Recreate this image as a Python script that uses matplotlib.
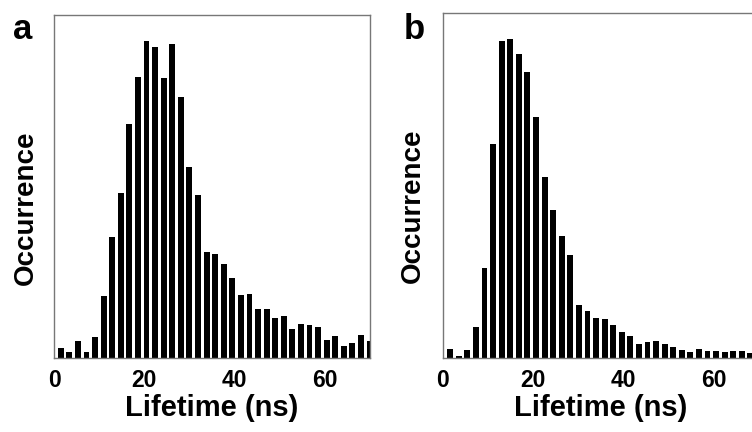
import numpy as np
import matplotlib.pyplot as plt

plt.rcParams['font.family'] = ['Liberation Sans', 'DejaVu Sans']
plt.rcParams['font.weight'] = 'bold'

# lifetime histograms, occurrence in arbitrary units (axis top = 100)
occ_a = [2.9, 1.7, 5.0, 1.7, 6.0, 18.0, 35.2, 48.0, 68.1, 81.8, 92.4, 90.6,
         81.7, 91.6, 76.1, 55.8, 47.6, 31.0, 30.3, 27.4, 23.2, 18.3, 18.7,
         14.3, 14.3, 11.6, 12.1, 8.6, 10.0, 9.5, 8.9, 5.3, 6.5, 3.4, 4.3,
         6.7, 5.1]
occ_b = [2.6, 0.5, 2.3, 9.0, 26.0, 61.9, 91.8, 92.4, 88.2, 83.0, 69.9, 52.4,
         42.9, 35.4, 29.9, 15.3, 13.7, 11.7, 11.2, 9.5, 7.5, 6.5, 4.2, 4.6,
         4.8, 4.1, 3.1, 2.4, 1.8, 2.7, 2.1, 1.9, 1.7, 1.9, 1.9, 1.5, 1.6]
bin_w = 1.9
start_a = 1.5
start_b = 1.6
xticks = [0, 20, 40, 60]
panel_labels = ['a', 'b']

fig = plt.figure(figsize=(7.52, 4.32), dpi=100)
ax_a = fig.add_axes([54/752, 74/432, 316/752, 343/432])
ax_b = fig.add_axes([443/752, 74/432, 316/752, 345/432])

for ax, occ, x0, ylc in [(ax_a, occ_a, start_a, (-0.047, 0.437)),
                         (ax_b, occ_b, start_b, (-0.054, 0.44))]:
    x = x0 + bin_w*np.arange(len(occ))
    ax.bar(x, occ, width=1.3, color='black', linewidth=0)
    ax.set_xlim(0, 70)
    ax.set_ylim(0, 100)
    ax.set_yticks([])
    ax.set_xticks(xticks)
    ax.tick_params(axis='x', length=0, pad=8, labelsize=16.5)
    for s in ax.spines.values():
        s.set_color('#777777')
        s.set_linewidth(1.0)
    ax.set_xlabel('Lifetime (ns)', fontsize=21, fontweight='bold')
    ax.xaxis.set_label_coords(0.5, -0.105)
    ax.xaxis.label.set_va('top')
    ax.set_ylabel('Occurrence', fontsize=20, fontweight='bold')
    ax.yaxis.set_label_coords(*ylc)

fig.text(23/752, 1 - 39/432, panel_labels[0], fontsize=25, fontweight='bold',
         ha='center', va='baseline')
fig.text(414/752, 1 - 39/432, panel_labels[1], fontsize=25, fontweight='bold',
         ha='center', va='baseline')

fig.savefig('out.png', dpi=100)
